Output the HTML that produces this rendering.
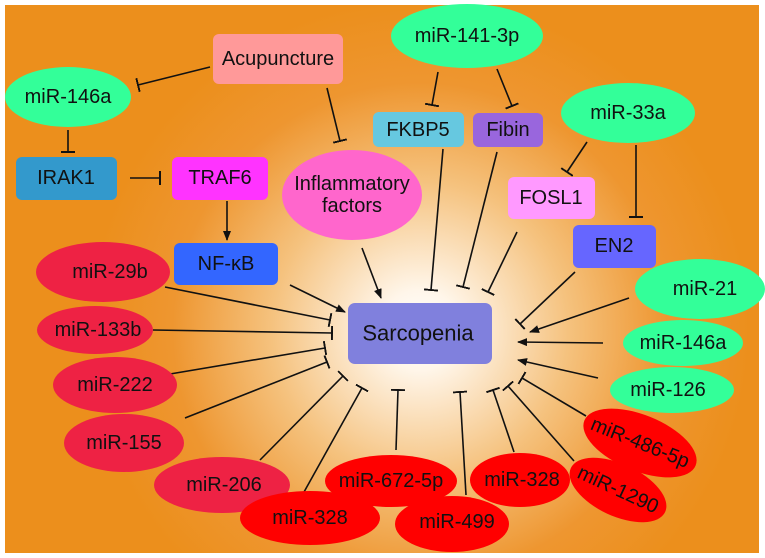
<!DOCTYPE html>
<html><head><style>
body{margin:0;background:#fff}
svg{display:block}
text{font-family:"Liberation Sans",Arial,sans-serif;font-size:20px;fill:#111;text-anchor:middle;dominant-baseline:central}
</style></head><body>
<svg width="765" height="558" viewBox="0 0 765 558" xmlns="http://www.w3.org/2000/svg">
<defs>
<radialGradient id="bg" cx="420" cy="330" r="330" gradientUnits="userSpaceOnUse">
<stop offset="0" stop-color="#ffffff"/>
<stop offset="0.12" stop-color="#fff6ea"/>
<stop offset="0.45" stop-color="#f5c27e"/>
<stop offset="0.75" stop-color="#ee9630"/>
<stop offset="1" stop-color="#ec8f1c"/>
</radialGradient>
<marker id="ar" markerWidth="10" markerHeight="8" refX="9" refY="4" orient="auto" markerUnits="userSpaceOnUse"><path d="M0,0 L10,4 L0,8 z" fill="#111"/></marker>
<marker id="tb" markerWidth="2" markerHeight="14" refX="1" refY="7" orient="auto" markerUnits="userSpaceOnUse"><rect x="0" y="0" width="2" height="14" fill="#111"/></marker>
</defs>
<rect x="5" y="5" width="754" height="548" fill="url(#bg)"/>
<g stroke="#111" stroke-width="1.6" fill="none">
<line x1="210" y1="67" x2="138" y2="85" marker-end="url(#tb)"/>
<line x1="327" y1="88" x2="340" y2="141" marker-end="url(#tb)"/>
<line x1="68" y1="130" x2="68" y2="152" marker-end="url(#tb)"/>
<line x1="130" y1="178" x2="160" y2="178" marker-end="url(#tb)"/>
<line x1="227" y1="201" x2="227" y2="240" marker-end="url(#ar)"/>
<line x1="438" y1="72" x2="432" y2="105" marker-end="url(#tb)"/>
<line x1="497" y1="69" x2="512" y2="106" marker-end="url(#tb)"/>
<line x1="587" y1="142" x2="567" y2="172" marker-end="url(#tb)"/>
<line x1="636" y1="145" x2="636" y2="217" marker-end="url(#tb)"/>
<line x1="290" y1="285" x2="345" y2="312" marker-end="url(#ar)"/>
<line x1="362" y1="248" x2="381" y2="298" marker-end="url(#ar)"/>
<line x1="443" y1="149" x2="431" y2="290" marker-end="url(#tb)"/>
<line x1="497" y1="152" x2="463" y2="287" marker-end="url(#tb)"/>
<line x1="517" y1="232" x2="488" y2="292" marker-end="url(#tb)"/>
<line x1="575" y1="272" x2="520" y2="324" marker-end="url(#tb)"/>
<line x1="629" y1="298" x2="530" y2="332" marker-end="url(#ar)"/>
<line x1="603" y1="343" x2="518" y2="342" marker-end="url(#ar)"/>
<line x1="598" y1="378" x2="518" y2="360" marker-end="url(#ar)"/>
<line x1="586" y1="416" x2="522" y2="378" marker-end="url(#tb)"/>
<line x1="574" y1="461" x2="508" y2="386" marker-end="url(#tb)"/>
<line x1="514" y1="452" x2="493" y2="390" marker-end="url(#tb)"/>
<line x1="466" y1="495" x2="460" y2="392" marker-end="url(#tb)"/>
<line x1="396" y1="450" x2="398" y2="390" marker-end="url(#tb)"/>
<line x1="304" y1="492" x2="362" y2="388" marker-end="url(#tb)"/>
<line x1="260" y1="460" x2="343" y2="376" marker-end="url(#tb)"/>
<line x1="185" y1="418" x2="327" y2="362" marker-end="url(#tb)"/>
<line x1="170" y1="374" x2="325" y2="348" marker-end="url(#tb)"/>
<line x1="153" y1="330" x2="332" y2="333" marker-end="url(#tb)"/>
<line x1="165" y1="287" x2="330" y2="320" marker-end="url(#tb)"/>
</g>
<rect x="213" y="34" width="130" height="50" rx="6" fill="#ff9999"/><text x="278" y="59">Acupuncture</text>
<ellipse cx="68" cy="97" rx="63" ry="30" fill="#33ff99"/><text x="68" y="97">miR-146a</text>
<rect x="16" y="157" width="101" height="43" rx="6" fill="#3399cc"/><text x="66" y="178">IRAK1</text>
<rect x="172" y="157" width="96" height="43" rx="6" fill="#ff33ff"/><text x="220" y="178">TRAF6</text>
<rect x="174" y="243" width="104" height="42" rx="6" fill="#3366ff"/><text x="226" y="264">NF-κB</text>
<ellipse cx="352" cy="195" rx="70" ry="45" fill="#ff66cc"/><text x="352" y="184">Inflammatory</text><text x="352" y="206">factors</text>
<ellipse cx="467" cy="36" rx="76" ry="32" fill="#33ff99"/><text x="467" y="36">miR-141-3p</text>
<rect x="373" y="112" width="91" height="35" rx="6" fill="#66c8e0"/><text x="418" y="130">FKBP5</text>
<rect x="473" y="113" width="70" height="34" rx="6" fill="#9966dd"/><text x="508" y="130">Fibin</text>
<ellipse cx="628" cy="113" rx="67" ry="30" fill="#33ff99"/><text x="628" y="113">miR-33a</text>
<rect x="508" y="177" width="87" height="42" rx="6" fill="#ff99ff"/><text x="551" y="198">FOSL1</text>
<rect x="573" y="225" width="83" height="43" rx="6" fill="#6666ff"/><text x="614" y="246">EN2</text>
<ellipse cx="700" cy="289" rx="65" ry="30" fill="#33ff99"/><text x="705" y="289">miR-21</text>
<ellipse cx="683" cy="343" rx="60" ry="23" fill="#33ff99"/><text x="683" y="343">miR-146a</text>
<ellipse cx="672" cy="390" rx="62" ry="23" fill="#33ff99"/><text x="668" y="390">miR-126</text>
<rect x="348" y="303" width="144" height="61" rx="7" fill="#8080dd"/><text x="418" y="333" style="font-size:22px">Sarcopenia</text>
<ellipse cx="103" cy="272" rx="67" ry="30" fill="#ee2244"/><text x="110" y="272">miR-29b</text>
<ellipse cx="95" cy="330" rx="58" ry="24" fill="#ee2244"/><text x="98" y="330">miR-133b</text>
<ellipse cx="115" cy="385" rx="62" ry="28" fill="#ee2244"/><text x="115" y="385">miR-222</text>
<ellipse cx="124" cy="443" rx="60" ry="29" fill="#ee2244"/><text x="124" y="443">miR-155</text>
<ellipse cx="222" cy="485" rx="68" ry="28" fill="#ee2244"/><text x="224" y="485">miR-206</text>
<ellipse cx="310" cy="518" rx="70" ry="27" fill="#ff0000"/><text x="310" y="518">miR-328</text>
<ellipse cx="391" cy="481" rx="66" ry="26" fill="#ff0000"/><text x="391" y="481">miR-672-5p</text>
<ellipse cx="452" cy="524" rx="57" ry="28" fill="#ff0000"/><text x="457" y="522">miR-499</text>
<ellipse cx="520" cy="480" rx="50" ry="27" fill="#ff0000"/><text x="522" y="480">miR-328</text>
<g transform="translate(618,490) rotate(25)"><ellipse rx="52" ry="26" fill="#ff0000"/><text>miR-1290</text></g>
<g transform="translate(640,443) rotate(22)"><ellipse rx="60" ry="28" fill="#ff0000"/><text>miR-486-5p</text></g>
</svg>
</body></html>
